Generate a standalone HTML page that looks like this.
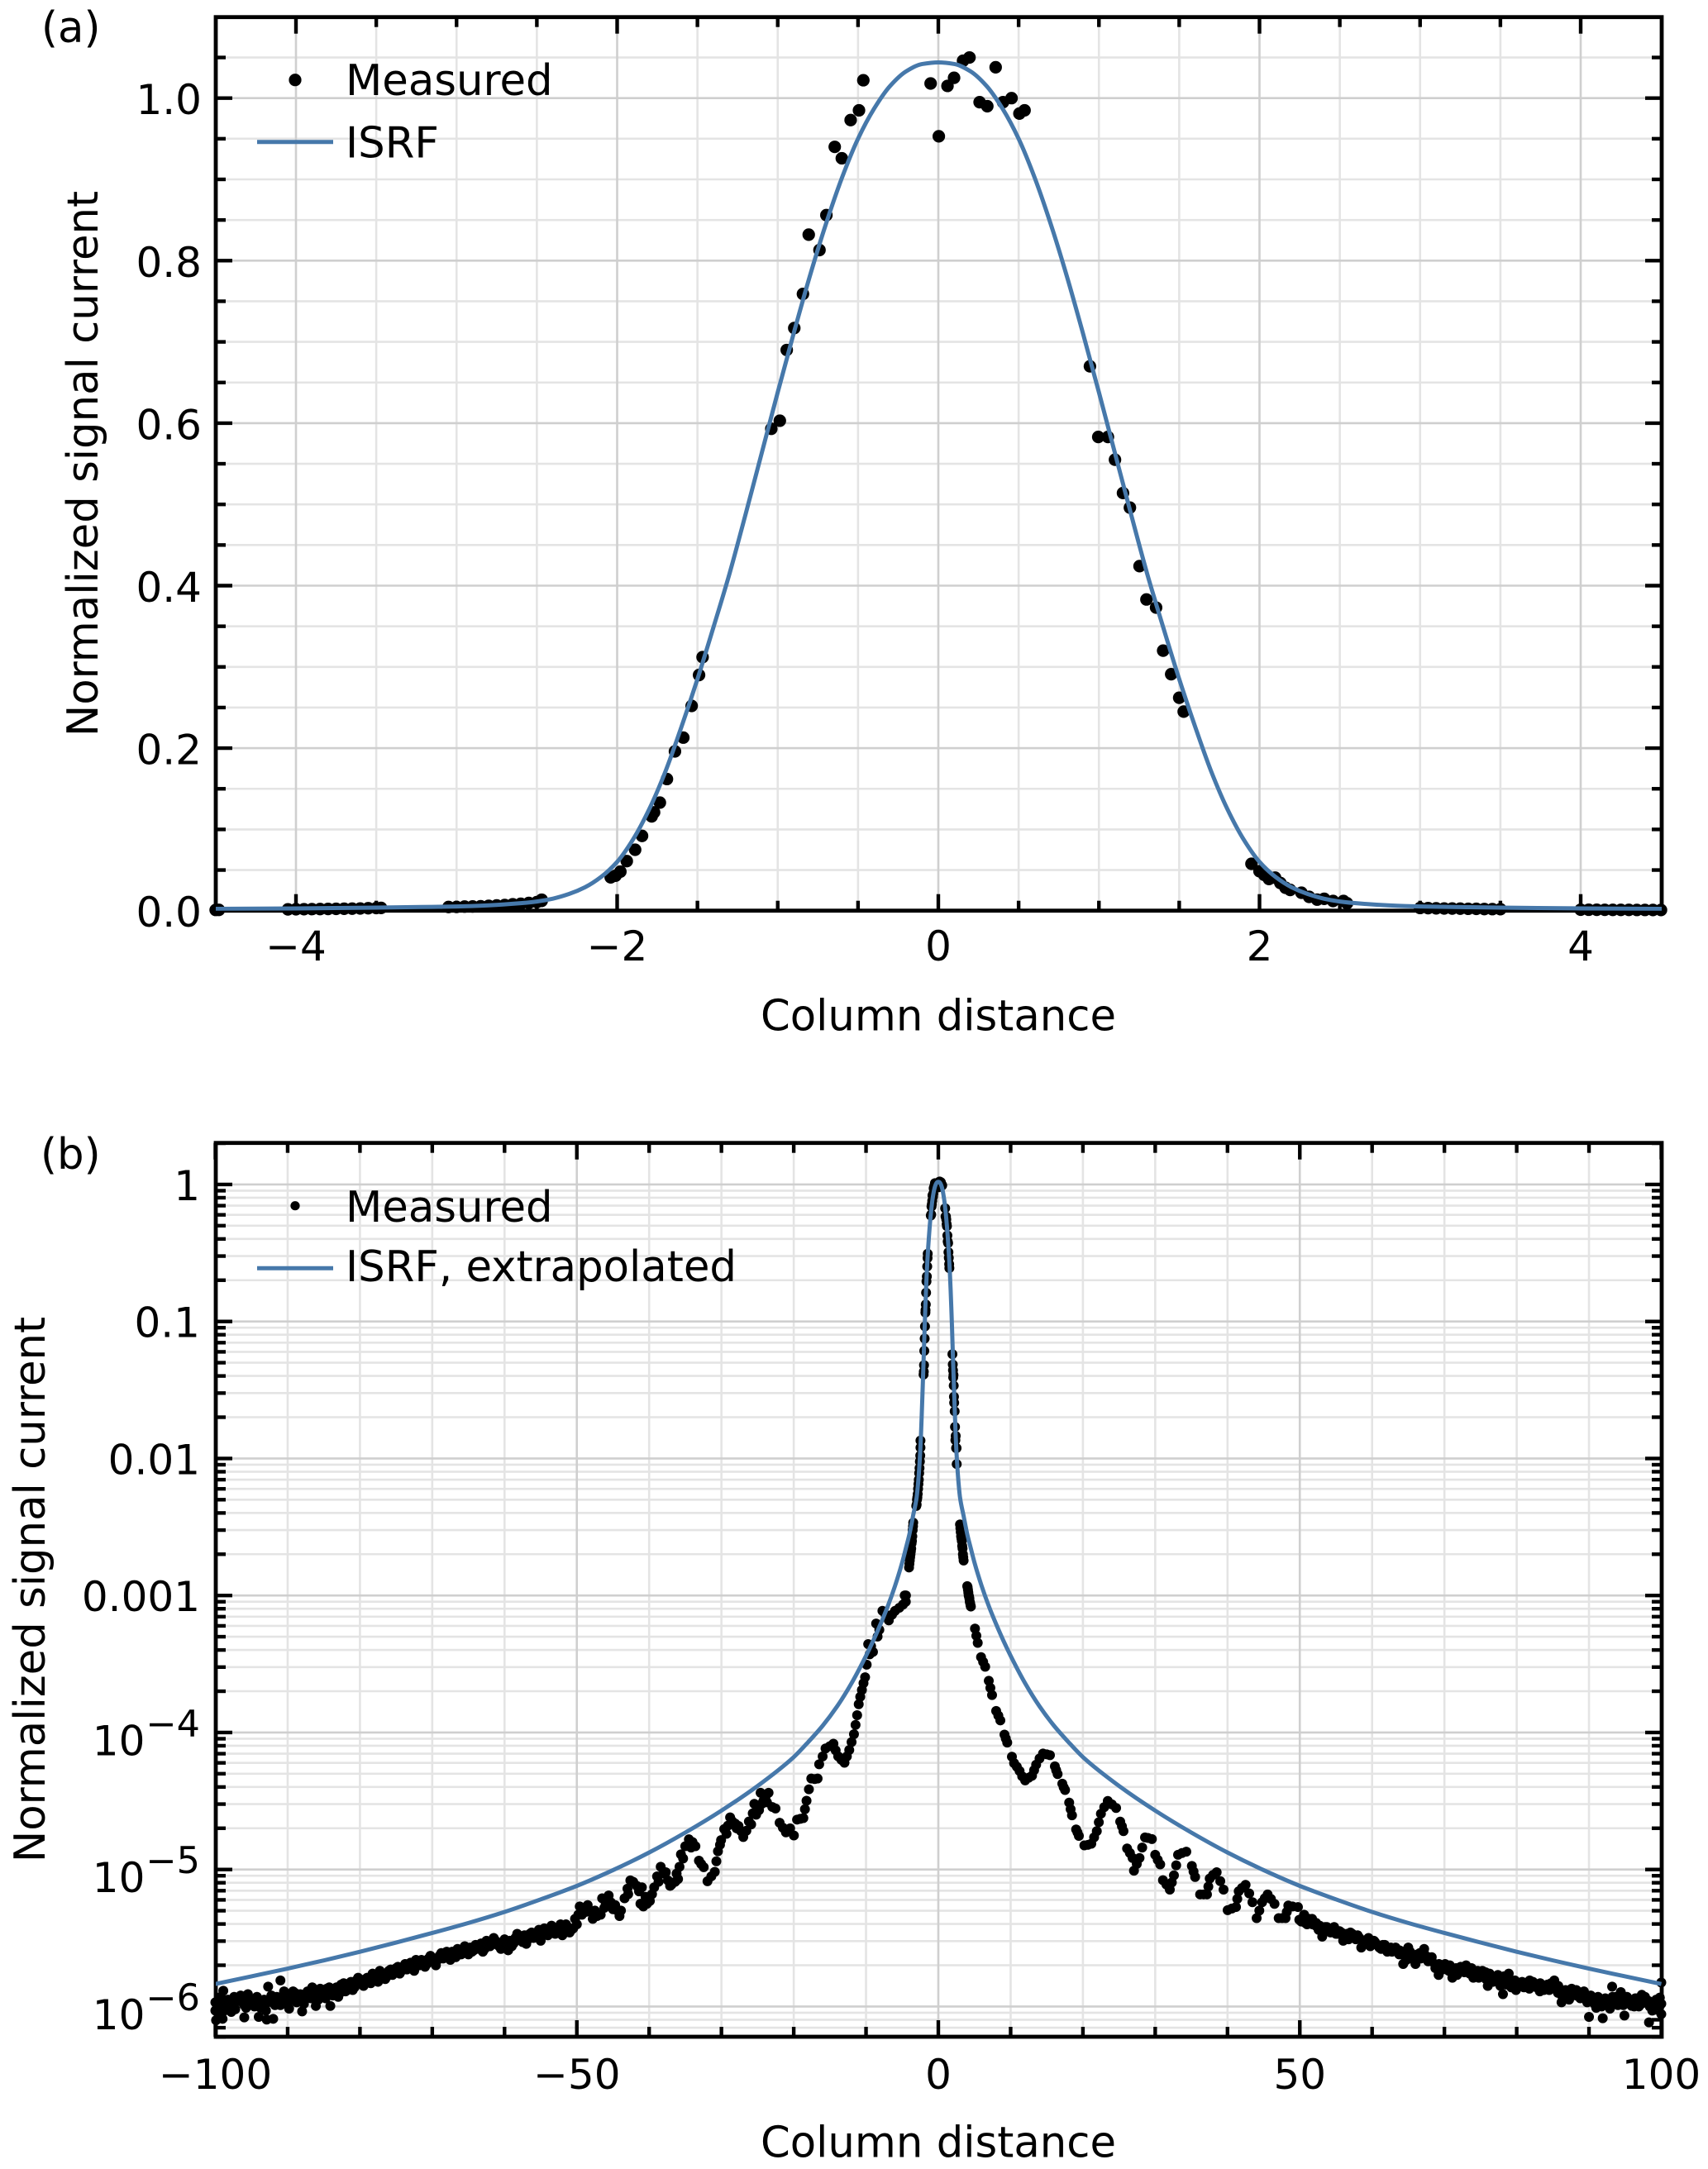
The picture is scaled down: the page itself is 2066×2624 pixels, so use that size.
<!DOCTYPE html>
<html lang="en">
<head>
<meta charset="utf-8">
<title>ISRF measured vs model</title>
<style>
html,body{margin:0;padding:0;background:#fff}
svg{display:block}
text{font-family:"DejaVu Sans","Liberation Sans",sans-serif;font-size:51.3px;fill:#000}
text.tick{font-size:50px}
</style>
</head>
<body>
<svg id="figure" xmlns="http://www.w3.org/2000/svg" width="2066" height="2624" viewBox="0 0 2066 2624">
  <defs>
    <clipPath id="clip-a"><rect x="261" y="20.7" width="1749" height="1081"/></clipPath>
    <clipPath id="clip-b"><rect x="261" y="1382.7" width="1749" height="1081.3"/></clipPath>
  </defs>
  <rect x="0" y="0" width="2066" height="2624" fill="#fff"/>

  <g id="panel-a">
    <g id="a-grid"></g>
    <g id="a-axes"></g>
    <g id="a-points"></g>
    <path id="a-curve" clip-path="url(#clip-a)" fill="none" stroke="#4678aa" stroke-width="5" stroke-linejoin="round"/>
    <text x="50" y="51">(a)</text>
    <text x="1135" y="1246.5" text-anchor="middle">Column distance</text>
    <text transform="translate(118,561) rotate(-90)" text-anchor="middle">Normalized signal current</text>
    <g>
      <circle cx="357" cy="96.7" r="7.6" fill="#000"/>
      <text x="418" y="115">Measured</text>
      <line x1="311" x2="403" y1="171.7" y2="171.7" stroke="#4678aa" stroke-width="5"/>
      <text x="418" y="190.7">ISRF</text>
    </g>
  </g>

  <g id="panel-b">
    <g id="b-grid"></g>
    <g id="b-axes"></g>
    <g id="b-points"></g>
    <path id="b-curve" clip-path="url(#clip-b)" fill="none" stroke="#4678aa" stroke-width="5" stroke-linejoin="round"/>
    <text x="49" y="1414">(b)</text>
    <text x="1135" y="2609.5" text-anchor="middle">Column distance</text>
    <text transform="translate(54,1923) rotate(-90)" text-anchor="middle">Normalized signal current</text>
    <g>
      <circle cx="357" cy="1458.7" r="5.6" fill="#000"/>
      <text x="418" y="1478">Measured</text>
      <line x1="311" x2="403" y1="1534.3" y2="1534.3" stroke="#4678aa" stroke-width="5"/>
      <text x="418" y="1550">ISRF, extrapolated</text>
    </g>
  </g>
</svg>

<script>
/* ---------- tick values and labels ---------- */
const aXMajor = [-4, -2, 0, 2, 4];
const aXLabels = ['\u22124', '\u22122', '0', '2', '4'];
const aXMinor = [-3.5, -3, -2.5, -1.5, -1, -0.5, 0.5, 1, 1.5, 2.5, 3, 3.5];
const aYMajor = [0, 0.2, 0.4, 0.6, 0.8, 1.0];
const aYLabels = ['0.0', '0.2', '0.4', '0.6', '0.8', '1.0'];
const aYMinor = [0.05, 0.1, 0.15, 0.25, 0.3, 0.35, 0.45, 0.5, 0.55, 0.65, 0.7, 0.75, 0.85, 0.9, 0.95, 1.05];

const bXMajor = [-100, -50, 0, 50, 100];
const bXLabels = ['\u2212100', '\u221250', '0', '50', '100'];
const bXMinor = [-90, -80, -70, -60, -40, -30, -20, -10, 10, 20, 30, 40, 60, 70, 80, 90];
const bYMajor = [1, 0.1, 0.01, 0.001, 1e-4, 1e-5, 1e-6];
const bYLabels = ['1', '0.1', '0.01', '0.001', '\u22124', '\u22125', '\u22126'];
const bYMinor = [2,
  9e-1, 8e-1, 7e-1, 6e-1, 5e-1, 4e-1, 3e-1, 2e-1,
  9e-2, 8e-2, 7e-2, 6e-2, 5e-2, 4e-2, 3e-2, 2e-2,
  9e-3, 8e-3, 7e-3, 6e-3, 5e-3, 4e-3, 3e-3, 2e-3,
  9e-4, 8e-4, 7e-4, 6e-4, 5e-4, 4e-4, 3e-4, 2e-4,
  9e-5, 8e-5, 7e-5, 6e-5, 5e-5, 4e-5, 3e-5, 2e-5,
  9e-6, 8e-6, 7e-6, 6e-6, 5e-6, 4e-6, 3e-6, 2e-6,
  9e-7, 8e-7, 7e-7, 6e-7];

/* ---------- ISRF curve: [column distance, normalized signal] ---------- */
const isrfCurve = [
  [-100,1.46e-6],[-95,1.66e-6],[-90,1.89e-6],[-85,2.17e-6],[-80,2.51e-6],[-75,2.93e-6],[-70,3.44e-6],[-65,4.07e-6],[-60,4.9e-6],[-55,6.05e-6],
  [-50,7.59e-6],[-45,9.89e-6],[-40,1.33e-5],[-35,1.86e-5],[-30,2.69e-5],[-25,4.07e-5],[-20,6.61e-5],[-18,8.51e-5],[-16,1.12e-4],[-14,1.55e-4],
  [-12,2.29e-4],[-10,3.63e-4],[-9,4.68e-4],[-8,6.17e-4],[-7,8.32e-4],[-6,1.17e-3],[-5,1.74e-3],[-4.5,2.2e-3],[-4,2.8e-3],[-3.5,3.8e-3],
  [-3,5.2e-3],[-2.8,6.6e-3],[-2.6,9.2e-3],[-2.5,0.0113],[-2.4,0.0148],[-2.3,0.0205],[-2.2,0.0288],[-2.1,0.0415],[-2,0.06],
  [-1.9,0.088],[-1.8,0.125],[-1.7,0.171],[-1.6,0.226],[-1.5,0.285],[-1.4,0.349],[-1.3,0.415],[-1.2,0.488],[-1.1,0.563],[-1,0.638],
  [-0.9,0.711],[-0.8,0.781],[-0.7,0.845],[-0.6,0.902],[-0.5,0.95],[-0.4,0.987],[-0.3,1.015],[-0.2,1.033],[-0.1,1.042],[0,1.044],
  [0.1,1.042],[0.2,1.033],[0.3,1.015],[0.4,0.987],[0.5,0.95],[0.6,0.902],[0.7,0.845],[0.8,0.781],[0.9,0.711],[1,0.638],
  [1.1,0.563],[1.2,0.488],[1.3,0.415],[1.4,0.349],[1.5,0.285],[1.6,0.226],[1.7,0.171],[1.8,0.125],[1.9,0.088],
  [2,0.06],[2.1,0.0415],[2.2,0.0288],[2.3,0.0205],[2.4,0.0148],[2.5,0.0113],[2.6,9.2e-3],[2.8,6.6e-3],[3,5.2e-3],[3.5,3.8e-3],
  [4,2.8e-3],[4.5,2.2e-3],[5,1.74e-3],[6,1.17e-3],[7,8.32e-4],[8,6.17e-4],[9,4.68e-4],[10,3.63e-4],[12,2.29e-4],[14,1.55e-4],
  [16,1.12e-4],[18,8.51e-5],[20,6.61e-5],[25,4.07e-5],[30,2.69e-5],[35,1.86e-5],[40,1.33e-5],[45,9.89e-6],[50,7.59e-6],[55,6.05e-6],
  [60,4.9e-6],[65,4.07e-6],[70,3.44e-6],[75,2.93e-6],[80,2.51e-6],[85,2.17e-6],[90,1.89e-6],[95,1.66e-6],[100,1.46e-6]
];

/* ---------- measured core: [column distance, normalized signal], shown in both panels ---------- */
const coreLeftTail = [
  [-4.5,0.0009],[-4.48,0.001],[-4.05,0.0016],[-4,0.0017],[-3.95,0.0018],[-3.9,0.0019],[-3.85,0.002],[-3.8,0.0021],[-3.75,0.0022],[-3.7,0.0024],[-3.65,0.0025],[-3.6,0.0027],[-3.55,0.003],[-3.5,0.0032],[-3.47,0.0034],
  [-3.05,0.0045],[-3,0.0046],[-2.95,0.005],[-2.9,0.0052],[-2.85,0.0055],[-2.8,0.006],[-2.75,0.0065],[-2.7,0.007],[-2.65,0.0078],[-2.6,0.0085],[-2.55,0.0095],[-2.5,0.0105],[-2.47,0.012],[-2.47,0.0135]
];
const coreLeftRise = [
  [-2.04,0.041],[-2.01,0.043],[-1.98,0.048],[-1.94,0.061],[-1.888,0.075],[-1.845,0.092],[-1.785,0.116],[-1.77,0.121],[-1.734,0.133],[-1.69,0.162],[-1.64,0.196],[-1.588,0.213],[-1.536,0.252],[-1.49,0.29],[-1.468,0.312],
  [-1.04,0.593],[-0.987,0.603],[-0.944,0.69],[-0.897,0.717],[-0.843,0.759],[-0.807,0.832],[-0.74,0.813],[-0.697,0.856],[-0.645,0.94],[-0.601,0.926],[-0.546,0.973],[-0.494,0.985],[-0.467,1.022]
];
const corePeak = [
  [-0.048,1.018],[0.003,0.953],[0.057,1.015],[0.098,1.025],[0.154,1.046],[0.194,1.05],[0.257,0.995],[0.305,0.99],[0.357,1.038],[0.403,0.995],[0.456,1],[0.505,0.981],[0.537,0.985]
];
const coreRightFall = [
  [0.944,0.67],[0.996,0.583],[1.056,0.583],[1.1,0.555],[1.15,0.514],[1.193,0.496],[1.253,0.424],[1.296,0.383],[1.356,0.373],[1.4,0.32],[1.45,0.291],[1.5,0.262],[1.528,0.245],
  [1.95,0.0577],[2,0.0485],[2.03,0.044],[2.059,0.039],[2.097,0.0407],[2.13,0.034],[2.162,0.0282],[2.191,0.0255],[2.261,0.0221],[2.309,0.017],[2.359,0.0136],[2.403,0.0146],[2.458,0.0119],[2.523,0.0119],[2.545,0.0091]
];
const coreRightTail = [
  [3,0.0033],[3.05,0.0031],[3.1,0.0029],[3.15,0.0027],[3.2,0.0026],[3.25,0.0025],[3.3,0.0023],[3.35,0.0022],[3.4,0.002],[3.45,0.0019],[3.5,0.0018],
  [4,0.00117],[4.05,0.00115],[4.1,0.0011],[4.15,0.00105],[4.2,0.001],[4.25,0.00098],[4.3,0.00095],[4.35,0.0009],[4.4,0.00088],[4.45,0.00085],[4.5,0.00083]
];

/* ---------- measured wings (panel b): [column distance, log10 of signal] ---------- */
const wingLeftFar = [
  [-100,-6.03],[-100,-5.97],[-99.9,-6.1],[-99.6,-5.96],[-99.5,-6.05],[-99,-6.09],[-98.9,-5.885],[-98.7,-5.97],[-98.3,-6],[-97.8,-6.04],[-97.4,-5.93],[-97,-5.96],[-96.5,-5.92],[-96,-6.08],[-96,-5.99],[-95.5,-5.91],[-95,-5.95],[-94.6,-6],[-94,-6.076],[-94,-5.95],[-93.5,-5.96],[-93,-6.03],[-92.9,-6.096],[-92.7,-5.855],[-92.4,-5.95],[-92,-6.09],[-92,-5.96],[-91.5,-5.93],[-91,-5.81],[-91,-5.99],[-90.5,-5.89],[-90,-5.91],[-89.8,-6.016],[-89.4,-5.92],[-89,-5.9],[-88.5,-5.94],[-88,-6.036],[-87.6,-5.95],[-87,-5.92],[-86.6,-5.86],[-86.1,-5.996],[-86,-5.9],[-85.5,-5.87],[-85,-5.93],[-84.6,-5.87],[-84.1,-5.996],[-84,-5.91],[-83.5,-5.89],[-83,-5.93],[-82.6,-5.84],[-82,-5.89],[-81.5,-5.84],[-81,-5.88],[-80.5,-5.81],[-80,-5.83],
  [-79.5,-5.85],[-79,-5.79],[-78.5,-5.83],[-78,-5.78],[-77.5,-5.82],[-77,-5.76],[-76.5,-5.8],[-76,-5.74],[-75.5,-5.77],[-75,-5.72],[-74.5,-5.76],[-74,-5.71],[-73.5,-5.73],[-73,-5.68],[-72.5,-5.74],[-72,-5.7],[-71.5,-5.66],[-71,-5.71],[-70.5,-5.65],[-70,-5.67],[-69.5,-5.7],[-69,-5.63],[-68.5,-5.65],[-68,-5.6],[-67.5,-5.66],[-67,-5.63],[-66.5,-5.58],[-66,-5.62],[-65.5,-5.56],[-65,-5.62],[-64.5,-5.6],[-64,-5.55],[-63.5,-5.58],[-63,-5.6],[-62.5,-5.52],[-62,-5.56],[-61.5,-5.5],[-61,-5.55],[-60.5,-5.58],[-60,-5.51],[-59.5,-5.59],[-59,-5.56],[-58.5,-5.5],[-58,-5.49],[-57.5,-5.53],[-57,-5.543],[-56.5,-5.47],[-56,-5.5],[-55.5,-5.46],[-55,-5.52],[-54.5,-5.43],[-54,-5.48],[-53.5,-5.41],[-53,-5.47],[-52.5,-5.42],[-52,-5.48],[-51.5,-5.4],[-51,-5.46],[-50.5,-5.43],[-50,-5.4]
];
const wingLeftFarSecond = [
  [-99.75,-6],[-99.25,-5.93],[-98.75,-6.03],[-98.25,-5.95],[-97.75,-5.98],[-97.25,-6.02],[-96.75,-5.94],[-96.25,-5.97],[-95.75,-6.01],[-95.25,-5.94],[-94.75,-5.98],[-94.25,-5.93],[-93.75,-6.01],[-93.25,-5.95],[-92.75,-5.97],[-92.25,-5.92],[-91.75,-5.99],[-91.25,-5.94],[-90.75,-5.97],[-90.25,-5.93],[-89.75,-5.96],[-89.25,-5.89],[-88.75,-5.97],[-88.25,-5.91],[-87.75,-5.98],[-87.25,-5.89],[-86.75,-5.94],[-86.25,-5.88],[-85.75,-5.95],[-85.25,-5.9],[-84.75,-5.94],[-84.25,-5.86],[-83.75,-5.92],[-83.25,-5.86],[-82.75,-5.9],[-82.25,-5.83],[-81.75,-5.88],[-81.25,-5.82],[-80.75,-5.86],[-80.25,-5.79],[-79.75,-5.83],[-79.25,-5.8],
  [-78.75,-5.8],[-78.25,-5.76],[-77.75,-5.79],[-77.25,-5.74],[-76.75,-5.77],[-76.25,-5.78],[-75.75,-5.73],[-75.25,-5.75],[-74.75,-5.71],[-74.25,-5.74],[-73.75,-5.69],[-73.25,-5.72],[-72.75,-5.7],[-72.25,-5.66],[-71.75,-5.7],[-71.25,-5.67],[-70.75,-5.69],[-70.25,-5.63],[-69.75,-5.67],[-69.25,-5.66],[-68.75,-5.61],[-68.25,-5.63],[-67.75,-5.62],[-67.25,-5.6],[-66.75,-5.64],[-66.25,-5.6],[-65.75,-5.59],[-65.25,-5.58],[-64.75,-5.57],[-64.25,-5.59],[-63.75,-5.56],[-63.25,-5.54],[-62.75,-5.58],[-62.25,-5.54],[-61.75,-5.53],[-61.25,-5.52],[-60.75,-5.56],[-60.25,-5.54],[-59.75,-5.54],[-59.25,-5.52],[-58.75,-5.54],[-58.25,-5.47],[-57.75,-5.51],[-57.25,-5.48],[-56.75,-5.51],[-56.25,-5.46],[-55.75,-5.49],[-55.25,-5.44],[-54.75,-5.48],[-54.25,-5.45],[-53.75,-5.44],[-53.25,-5.44],[-52.75,-5.45],[-52.25,-5.4],[-51.75,-5.44],[-51.25,-5.42],[-50.75,-5.44],[-50.25,-5.36]
];
const wingLeftMid = [
  [-49.6,-5.27],[-49.3,-5.33],[-49,-5.29],[-48.5,-5.26],[-48.1,-5.31],[-47.8,-5.36],[-47.2,-5.34],[-46.7,-5.33],[-46.5,-5.21],[-46,-5.25],[-45.6,-5.19],[-45.3,-5.24],[-45,-5.29],[-44.4,-5.3],[-43.9,-5.3],[-43.4,-5.21],[-43,-5.14],[-42.6,-5.08],[-42.2,-5.09],[-41.7,-5.12],[-41,-5.13],
  [-41.2,-5.25],[-40.8,-5.27],[-40.3,-5.25],[-39.9,-5.23],[-39.6,-5.18],[-39.3,-5.13],[-38.9,-5.05],[-38.4,-4.98],[-38,-5.03],[-37.4,-5.08],[-36.9,-5.11],[-36.4,-5.09],[-36,-5.07],[-35.8,-4.98],[-35.6,-4.89],[-35,-4.83],[-34.5,-4.78],[-33.6,-4.83],[-34,-4.8],
  [-33.11,-4.936],[-32.8,-4.96],[-32.45,-4.983],
  [-31.93,-5.086],[-31.4,-5.05],[-30.92,-5.017],[-30.7,-4.94],[-30.48,-4.867],[-30.05,-4.786],[-29.61,-4.705],[-29.1,-4.68],[-28.51,-4.648],[-28.1,-4.665],[-27.64,-4.682],[-27.3,-4.72],[-26.98,-4.763],[-26.55,-4.717],[-25.89,-4.671],[-25.67,-4.59],[-25.45,-4.521],[-24.8,-4.567],[-24.58,-4.44],[-24.2,-4.5],[-23.92,-4.475],[-23.48,-4.44],
  [-22.96,-4.544],[-22.52,-4.555]
];
const wingLeftMidSecond = [
  [-49.8,-5.33],[-48.8,-5.31],[-47.5,-5.3],[-46.2,-5.28],[-44.7,-5.26],[-44.1,-5.34],[-42.9,-5.18],[-41.4,-5.16],[-40.5,-5.2],[-38.7,-5.09],[-37.7,-5.02],[-37.1,-5.12],[-36.2,-5.03],[-35.3,-4.92],[-34.2,-4.84],[-30.2,-4.82],[-29.3,-4.74],[-28.8,-4.62],[-27.9,-4.7],[-26.2,-4.65],[-25.2,-4.6],[-24.4,-4.52],[-23.7,-4.51]
];
const wingLeftNear = [
  [-21.95,-4.659],[-21.5,-4.695],[-21.08,-4.729],[-20.5,-4.7],[-19.98,-4.752],[-19.54,-4.636],[-19.1,-4.63],[-18.67,-4.625],[-18.45,-4.56],[-18.23,-4.498],[-17.9,-4.415],[-17.57,-4.336],[-17.1,-4.34],[-16.7,-4.336],[-16.48,-4.232],[-16,-4.175],[-15.6,-4.117],[-15,-4.1],[-14.51,-4.082],[-14.2,-4.13],[-13.85,-4.174],[-13.4,-4.2],[-12.98,-4.221],[-12.65,-4.175],[-12.32,-4.128],[-12,-4.07],[-11.67,-4.013],[-11.45,-3.945],[-11.23,-3.874],
  [-11.01,-3.794],[-10.8,-3.74],[-10.57,-3.69],[-10.35,-3.64],[-10.13,-3.597],
  [-9.91,-3.505],[-9.7,-3.355],[-9.5,-3.43],[-9.3,-3.37],[-9.04,-3.412],[-8.6,-3.205],[-8.4,-3.3],[-8.16,-3.251],[-7.73,-3.112],[-7.3,-3.14],[-6.85,-3.182],[-6.4,-3.14],[-5.98,-3.112],[-5.4,-3.09],[-4.88,-3.066],[-4.65,-3]
];
const wingRightNear = [
  [5.07,-3.242],[5.26,-3.294],[5.45,-3.346],
  [5.91,-3.45],[6.2,-3.485],[6.48,-3.52],
  [6.98,-3.623],[7.2,-3.675],[7.43,-3.727],
  [8,-3.843],[8.3,-3.877],[8.58,-3.912],
  [9.15,-4.016],[9.34,-4.045],[9.53,-4.074],
  [10.18,-4.177],[10.48,-4.224],[10.86,-4.25],[11.24,-4.281],[11.6,-4.32],[12.01,-4.35],[12.5,-4.33],[12.96,-4.316],[13.25,-4.275],[13.53,-4.235],[14,-4.19],[14.48,-4.154],[15,-4.16],[15.44,-4.166],
  [16.12,-4.247],[16.3,-4.275],[16.5,-4.304],
  [17.15,-4.374],[17.34,-4.4],[17.53,-4.42],
  [18.1,-4.512],[18.3,-4.56],[18.49,-4.605],
  [19.06,-4.708],[19.25,-4.73],[19.44,-4.755]
];
const wingRightMid = [
  [20.2,-4.824],[20.7,-4.82],[21.16,-4.812],[21.55,-4.765],[21.92,-4.72],[22.2,-4.655],[22.49,-4.593],[22.95,-4.545],[23.44,-4.5],[24,-4.525],[24.59,-4.551],
  [25.16,-4.651],[25.4,-4.685],[25.61,-4.72],
  [26.11,-4.847],[26.5,-4.88],[26.87,-4.916],[27.06,-5.009],[27.45,-4.96],[27.83,-4.916],[28.2,-4.84],[28.59,-4.766],[29,-4.77],[29.54,-4.778],
  [30,-4.893],[30.35,-4.93],[30.69,-4.963],
  [31.07,-5.078],[31.55,-5.11],[32.02,-5.147],[32.3,-5.095],[32.59,-5.043],[32.9,-4.97],[33.16,-4.893],[33.7,-4.88],[34.3,-4.87],
  [35.07,-4.974],[35.3,-5.015],[35.52,-5.055],
  [36.21,-5.182],[36.7,-5.182],[37.16,-5.182],[37.35,-5.125],[37.54,-5.066],[38,-5.04],[38.5,-5.02],[39,-5.085],[39.45,-5.147],
  [40.02,-5.297],[40.6,-5.285],[41.17,-5.274],[41.35,-5.215],[41.55,-5.159],[42,-5.135],[42.5,-5.112],[43,-5.175],[43.45,-5.239],
  [44.03,-5.355],[44.4,-5.3],[44.79,-5.239],[45.15,-5.21],[45.55,-5.182],[46,-5.215],[46.5,-5.251],
  [47.08,-5.355],[47.55,-5.355],[48.03,-5.355],[48.2,-5.31],[48.41,-5.263],[49,-5.27],[49.74,-5.274],[49.93,-5.367]
];
const wingRightFar = [
  [50.2,-5.38],[50.6,-5.33],[51,-5.4],[51.4,-5.37],[51.7,-5.36],[52.2,-5.41],[52.6,-5.44],[53.1,-5.49],[53.5,-5.42],[54,-5.45],[54.6,-5.43],[55,-5.47],[55.5,-5.45],[56,-5.52],[56.5,-5.47],[57,-5.46],[57.5,-5.49],[58,-5.48],[58.5,-5.57],[59,-5.54],[59.5,-5.5],[60,-5.55],[60.4,-5.53],[61,-5.57],[61.5,-5.55],[62.1,-5.6],[62.6,-5.57],[63.2,-5.59],[63.8,-5.59],[64.3,-5.69],[64.6,-5.64],[65,-5.57],[65.5,-5.63],[66,-5.69],[66.6,-5.61],[67.2,-5.58],[67.8,-5.64],[68.2,-5.67],[68.7,-5.69],[69.2,-5.77],[69.6,-5.7],[70.1,-5.69],[70.6,-5.74],[71.1,-5.79],[71.6,-5.72],[72.2,-5.74],[73,-5.7],[73.5,-5.76],[74,-5.79],[74.6,-5.74],[75.2,-5.77],[75.7,-5.75],[76,-5.85],[76.6,-5.79],[77.4,-5.77],[77.8,-5.83],[78.1,-5.91],[78.5,-5.84],[78.9,-5.76],[79.4,-5.82],[79.9,-5.88],
  [80.4,-5.83],[81,-5.86],[81.8,-5.81],[82.4,-5.85],[83.2,-5.89],[83.8,-5.85],[84.5,-5.88],[85.2,-5.81],[85.7,-5.9],[86.2,-5.97],[86.7,-5.93],[87.2,-5.9],[87.6,-5.87],[88.2,-5.92],[88.8,-5.94],[89.3,-5.89],[90,-6.076],[90,-5.96],[90.5,-5.95],[91,-6.01],[91.5,-5.97],[91.9,-6.086],[92.3,-5.98],[92.9,-6.016],[93.2,-5.855],[93.7,-5.93],[94,-5.99],[94.4,-5.895],[94.9,-6.066],[95.3,-5.96],[95.9,-5.995],[96.4,-5.94],[96.9,-6],[97.3,-5.915],[97.8,-5.97],[98.3,-6.116],[98.4,-6],[98.8,-5.995],[99.3,-5.95],[99.8,-5.935],[100,-6.056],[100,-5.825],[100,-5.98]
];
const wingRightFarSecond = [
  [50.25,-5.36],[50.75,-5.39],[51.25,-5.36],[51.75,-5.4],[52.25,-5.39],[52.75,-5.41],[53.25,-5.44],[53.75,-5.42],[54.25,-5.46],[54.75,-5.42],[55.25,-5.47],[55.75,-5.46],[56.25,-5.49],[56.75,-5.51],[57.25,-5.47],[57.75,-5.51],[58.25,-5.5],[58.75,-5.53],[59.25,-5.52],[59.75,-5.56],[60.25,-5.52],[60.75,-5.55],[61.25,-5.58],[61.75,-5.55],[62.25,-5.58],[62.75,-5.6],[63.25,-5.57],[63.75,-5.62],[64.25,-5.6],[64.75,-5.66],[65.25,-5.6],[65.75,-5.66],[66.25,-5.62],[66.75,-5.65],[67.25,-5.62],[67.75,-5.67],[68.25,-5.64],[68.75,-5.72],[69.25,-5.69],[69.75,-5.73],[70.25,-5.72],[70.75,-5.7],[71.25,-5.75],[71.75,-5.77],[72.25,-5.71],[72.75,-5.75],[73.25,-5.74],[73.75,-5.72],[74.25,-5.76],[74.75,-5.79],
  [75.25,-5.74],[75.75,-5.8],[76.25,-5.76],[76.75,-5.82],[77.25,-5.79],[77.75,-5.85],[78.25,-5.78],[78.75,-5.82],[79.25,-5.86],[79.75,-5.81],[80.25,-5.85],[80.75,-5.82],[81.25,-5.84],[81.75,-5.87],[82.25,-5.82],[82.75,-5.86],[83.25,-5.83],[83.75,-5.88],[84.25,-5.84],[84.75,-5.83],[85.25,-5.87],[85.75,-5.85],[86.25,-5.92],[86.75,-5.88],[87.25,-5.95],[87.75,-5.91],[88.25,-5.88],[88.75,-5.9],[89.25,-5.93],[89.75,-5.97],[90.25,-5.92],[90.75,-5.98],[91.25,-5.93],[91.75,-6],[92.25,-5.94],[92.75,-5.97],[93.25,-5.93],[93.75,-5.98],[94.25,-5.95],[94.75,-5.99],[95.25,-5.93],[95.75,-5.97],[96.25,-6],[96.75,-5.94],[97.25,-5.98],[97.75,-5.93],[98.25,-5.96],[98.75,-6.03],[99.25,-5.98],[99.75,-6]
];

/* ---------- axis functions ---------- */
const SVGNS = 'http://www.w3.org/2000/svg';
const LEFT = 261, RIGHT = 2010;
const A_TOP = 20.7, A_BOTTOM = 1101.7;
const B_TOP = 1382.7, B_BOTTOM = 2464;
const xA = v => 1135 + 194.25 * v;
const yA = v => 1101.7 - 983 * v;
const xB = v => 1135 + 8.745 * v;
const yB = v => 1432.9 - 165.75 * Math.log10(v);

function make(parent, tag, attrs) {
  const el = document.createElementNS(SVGNS, tag);
  for (const k in attrs) el.setAttribute(k, attrs[k]);
  parent.appendChild(el);
  return el;
}
function gridLine(parent, x1, y1, x2, y2, major, name) {
  const el = make(parent, 'line', {x1, y1, x2, y2, stroke: major ? '#cfcfcf' : '#e4e4e4', 'stroke-width': 2.6});
  
  
}
function tickLine(parent, x1, y1, x2, y2, name) {
  const el = make(parent, 'line', {x1, y1, x2, y2, stroke: '#000', 'stroke-width': 4.4});
  
  
}
function tickLabel(parent, x, y, anchor, str) {
  const el = make(parent, 'text', {x, y, 'text-anchor': anchor, 'class': 'tick'});
  el.textContent = str;
  
  
  return el;
}
function drawFrame(parent, top, bottom) {
  const el = make(parent, 'rect', {x: LEFT, y: top, width: RIGHT - LEFT, height: bottom - top, fill: 'none', stroke: '#000', 'stroke-width': 4.8});
  
  
}
function drawDot(parent, cx, cy, r) {
  const el = make(parent, 'circle', {cx, cy, r, fill: '#000'});
  
  
}
function drawTicks(axes, xs, ys, top, bottom, xLen, yLen, kind) {
  xs.forEach(x => {
    tickLine(axes, x, bottom, x, bottom - xLen, 'x-' + kind + '-tick');
    tickLine(axes, x, top, x, top + xLen, 'x-' + kind + '-tick-top');
  });
  ys.forEach(y => {
    tickLine(axes, LEFT, y, LEFT + yLen, y, 'y-' + kind + '-tick');
    tickLine(axes, RIGHT, y, RIGHT - yLen, y, 'y-' + kind + '-tick-right');
  });
}
/* Smooth monotone cubic through the curve points, in screen space */
function curvePath(sx, sy) {
  const px = isrfCurve.map(p => sx(p[0]));
  const py = isrfCurve.map(p => sy(p[1]));
  const n = px.length;
  const d = [], m = [];
  for (let i = 0; i < n - 1; i++) d.push((py[i + 1] - py[i]) / (px[i + 1] - px[i]));
  m[0] = d[0];
  m[n - 1] = d[n - 2];
  for (let i = 1; i < n - 1; i++) {
    if (d[i - 1] * d[i] <= 0) { m[i] = 0; continue; }
    const h0 = px[i] - px[i - 1], h1 = px[i + 1] - px[i];
    const w1 = 2 * h1 + h0, w2 = h1 + 2 * h0;
    m[i] = (w1 + w2) / (w1 / d[i - 1] + w2 / d[i]);
  }
  let path = 'M' + px[0].toFixed(2) + ' ' + py[0].toFixed(2);
  for (let i = 0; i < n - 1; i++) {
    const h = (px[i + 1] - px[i]) / 3;
    path += 'C' + (px[i] + h).toFixed(2) + ' ' + (py[i] + m[i] * h).toFixed(2) + ' ' +
      (px[i + 1] - h).toFixed(2) + ' ' + (py[i + 1] - m[i + 1] * h).toFixed(2) + ' ' +
      px[i + 1].toFixed(2) + ' ' + py[i + 1].toFixed(2);
  }
  return path;
}

/* ---------- panel a ---------- */
(function () {
  const grid = document.getElementById('a-grid');
  const axes = document.getElementById('a-axes');
  const pts = document.getElementById('a-points');
  aXMinor.forEach(v => gridLine(grid, xA(v), A_TOP, xA(v), A_BOTTOM, false, 'x-minor-gridline'));
  aYMinor.forEach(v => gridLine(grid, LEFT, yA(v), RIGHT, yA(v), false, 'y-minor-gridline'));
  aXMajor.forEach(v => gridLine(grid, xA(v), A_TOP, xA(v), A_BOTTOM, true, 'x-major-gridline'));
  aYMajor.forEach(v => gridLine(grid, LEFT, yA(v), RIGHT, yA(v), true, 'y-major-gridline'));
  drawTicks(axes, aXMinor.map(xA), aYMinor.map(yA), A_TOP, A_BOTTOM, 12, 12, 'minor');
  drawTicks(axes, aXMajor.map(xA), aYMajor.map(yA), A_TOP, A_BOTTOM, 20, 20, 'major');
  drawFrame(axes, A_TOP, A_BOTTOM);
  aXMajor.forEach((v, i) => tickLabel(axes, xA(v), 1162, 'middle', aXLabels[i]));
  aYMajor.forEach((v, i) => tickLabel(axes, 244, yA(v) + 19.5, 'end', aYLabels[i]));
  [coreLeftTail, coreLeftRise, corePeak, coreRightFall, coreRightTail].forEach(list =>
    list.forEach(p => drawDot(pts, xA(p[0]), yA(p[1]), 7.6)));
  document.getElementById('a-curve').setAttribute('d', curvePath(xA, yA));
})();

/* ---------- panel b ---------- */
(function () {
  const grid = document.getElementById('b-grid');
  const axes = document.getElementById('b-axes');
  const pts = document.getElementById('b-points');
  bXMinor.forEach(v => gridLine(grid, xB(v), B_TOP, xB(v), B_BOTTOM, false, 'x-minor-gridline'));
  bYMinor.forEach(v => gridLine(grid, LEFT, yB(v), RIGHT, yB(v), false, 'y-minor-gridline'));
  bXMajor.forEach(v => gridLine(grid, xB(v), B_TOP, xB(v), B_BOTTOM, true, 'x-major-gridline'));
  bYMajor.forEach(v => gridLine(grid, LEFT, yB(v), RIGHT, yB(v), true, 'y-major-gridline'));
  drawTicks(axes, bXMinor.map(xB), bYMinor.map(yB), B_TOP, B_BOTTOM, 12, 12, 'minor');
  drawTicks(axes, bXMajor.map(xB), bYMajor.map(yB), B_TOP, B_BOTTOM, 20, 20, 'major');
  drawFrame(axes, B_TOP, B_BOTTOM);
  bXMajor.forEach((v, i) => tickLabel(axes, xB(v), 2527, 'middle', bXLabels[i]));
  bYMajor.forEach((v, i) => {
    if (v >= 0.001) {
      tickLabel(axes, 242, yB(v) + 19, 'end', bYLabels[i]);
    } else {
      const t = tickLabel(axes, 242, yB(v) + 27.5, 'end', '10');
      const sup = make(t, 'tspan', {dy: -23, dx: 1, style: 'font-size:44.5px'});
      sup.textContent = bYLabels[i];
    }
  });
  [coreLeftTail, coreLeftRise, corePeak, coreRightFall, coreRightTail].forEach(list =>
    list.forEach(p => drawDot(pts, xB(p[0]), yB(p[1]), 6)));
  [wingLeftFar, wingLeftFarSecond, wingLeftMid, wingLeftMidSecond, wingLeftNear, wingRightNear, wingRightMid, wingRightFar, wingRightFarSecond].forEach(list =>
    list.forEach(p => drawDot(pts, xB(p[0]), yB(Math.pow(10, p[1])), 6)));
  document.getElementById('b-curve').setAttribute('d', curvePath(xB, yB));
})();
</script>
</body>
</html>
